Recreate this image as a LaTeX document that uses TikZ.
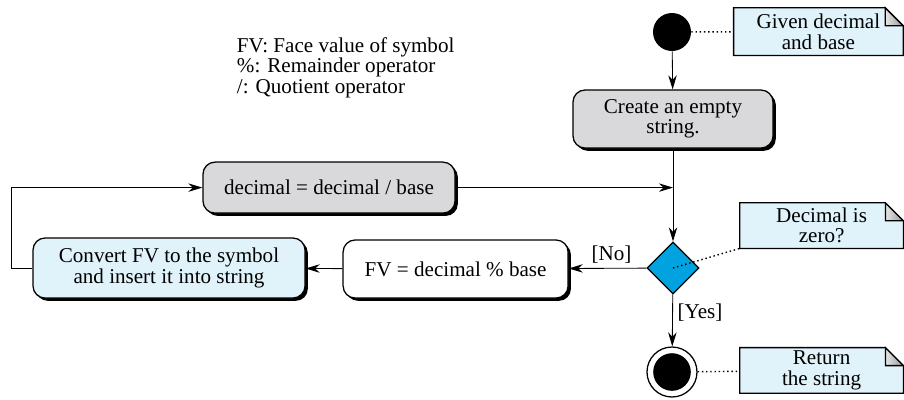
\documentclass[tikz,border=0pt]{standalone}
\usepackage{fontspec}
\setmainfont{Liberation Serif}
\newfontfamily\figfont{Liberation Serif}
\usetikzlibrary{shapes.geometric, shadows, calc, arrows.meta}
\definecolor{boxgray}{RGB}{217,217,219}
\definecolor{paleblue}{RGB}{224,242,250}
\definecolor{decblue}{RGB}{0,163,224}

\begin{document}
\begin{tikzpicture}[every node/.style={font=\figfont\fontsize{15}{14.5}\selectfont},
		box/.style={rectangle, rounded corners=0.3cm, draw=black, line width=0.9pt, align=center, drop shadow={shadow xshift=2pt, shadow yshift=-2pt, fill=black, opacity=1}},
		note/.style={rectangle, fill=paleblue, align=center, inner sep=0pt},
		arr/.style={-{Stealth[length=10pt, width=6pt]}, semithick},
		link/.style={dotted, line width=1pt}]
			\useasboundingbox (0,0) rectangle (22.6,-9.975);
			\node[circle, fill=black, minimum size=0.95cm, inner sep=0pt] (start) at (16.8, -0.8) {};
			\node[box, fill=boxgray, minimum width=5cm, minimum height=1.45cm] (create) at (16.825, -2.975) {Create an empty\\string.};
			\node[diamond, draw, fill=decblue, line width=0.9pt, minimum size=1.3cm, inner sep=0pt] (test) at (16.825, -6.7) {};
			\node[circle, draw, line width=0.9pt, minimum size=1.25cm, inner sep=0pt, path picture={\fill (path picture bounding box.center) circle (0.47cm);}] (stop) at (16.8, -9.3) {};
			\node[box, fill=boxgray, minimum width=6.3cm, minimum height=1.275cm] (decimal) at (8.225, -4.69) {decimal = decimal / base};
			\node[box, fill=white, minimum width=5.625cm, minimum height=1.45cm] (fv) at (11.39, -6.725) {FV = decimal \% base};
			\node[box, fill=paleblue, minimum width=6.8cm, minimum height=1.5cm] (convert) at (4.225, -6.7) {Convert FV to the symbol\\and insert it into string};
			\node[align=left, anchor=west] (key) at (5.8, -1.69) {FV: Face value of symbol\\\%: Remainder operator\\/: Quotient operator};
			\node[note, minimum width=4.225cm, minimum height=1.175cm] (given) at (20.46, -0.79) {Given decimal\\and base};
			\node[note, minimum width=4.075cm, minimum height=1.125cm] (zero) at (20.54, -5.64) {Decimal is\\zero?};
			\node[note, minimum width=4.075cm, minimum height=1.125cm] (ret) at (20.54, -9.26) {Return\\the string};
			\foreach \n in {given, zero, ret} {
				\fill[white] ($(\n.north east)+(-0.45,0)$) -- (\n.north east) -- ($(\n.north east)+(0,-0.45)$) -- cycle;
				\draw[line width=0.9pt] (\n.south west) -- (\n.north west) -- ($(\n.north east)+(-0.45,0)$) -- ($(\n.north east)+(0,-0.45)$) -- (\n.south east) -- cycle;
				\shadedraw[left color=gray!20, right color=gray!80, line width=0.9pt] ($(\n.north east)+(-0.45,0)$) -- ($(\n.north east)+(-0.45,-0.45)$) -- ($(\n.north east)+(0,-0.45)$) -- cycle;
			}
			\coordinate (join) at (decimal -| create);
			\draw[arr] (start) -- (create);
			\draw[arr] (create) -- (test);
			\draw[arr] (decimal) -- (join);
			\draw[arr] (test) -- node[above, pos=0.45] {[No]} (fv);
			\draw[arr] (test) -- node[right, pos=0.35] {[Yes]} (stop);
			\draw[arr] (fv) -- (convert);
			\draw[arr] (convert.west) -- ++(-0.525,0) |- (decimal.west);
			\draw[link] (start) -- (given);
			\draw[link] (test.center) -- (zero.south west);
			\draw[link] (stop) -- (ret);
	\end{tikzpicture}
\end{document}
